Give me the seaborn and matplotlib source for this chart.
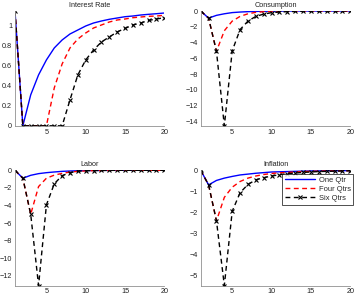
import pandas as pd
import matplotlib
matplotlib.use('Agg')
import matplotlib.pyplot as plt
import seaborn as sns

# Impulse responses, quarters 1..20
quarters = list(range(1, 21))
series_names = ['One Qtr', 'Four Qtrs', 'Six Qtrs']

rate_one = [1.15, 0.0, 0.31, 0.51, 0.66, 0.78, 0.86, 0.92, 0.96, 1.00,
            1.03, 1.05, 1.067, 1.08, 1.093, 1.10, 1.11, 1.117, 1.123, 1.13]
rate_four = [1.15, 0.0, 0.0, 0.0, 0.0, 0.38, 0.62, 0.78, 0.87, 0.93,
             0.98, 1.01, 1.04, 1.06, 1.07, 1.083, 1.09, 1.097, 1.10, 1.107]
rate_six = [1.15, 0.0, 0.0, 0.0, 0.0, 0.0, 0.0, 0.26, 0.51, 0.66,
            0.76, 0.84, 0.89, 0.94, 0.976, 1.01, 1.03, 1.056, 1.07, 1.083]

cons_one = [0.0, -0.9, -0.55, -0.35, -0.2, -0.13, -0.08, -0.05, -0.03, -0.02,
            -0.01, 0.0, 0.0, 0.0, 0.0, 0.0, 0.0, 0.0, 0.0, 0.0]
cons_four = [0.0, -0.9, -5.1, -2.5, -1.28, -0.68, -0.35, -0.17, -0.09, -0.05,
             -0.03, -0.02, -0.01, 0.0, 0.0, 0.0, 0.0, 0.0, 0.0, 0.0]
cons_six = [0.0, -0.9, -5.1, -14.55, -5.05, -2.35, -1.28, -0.68, -0.39, -0.21,
            -0.13, -0.08, -0.05, -0.03, -0.02, -0.01, -0.01, 0.0, 0.0, 0.0]

labor_one = [0.0, -0.9, -0.57, -0.38, -0.27, -0.19, -0.12, -0.08, -0.05, -0.03,
             -0.02, -0.01, 0.0, 0.0, 0.0, 0.0, 0.0, 0.0, 0.0, 0.0]
labor_four = [0.0, -0.9, -5.0, -1.85, -0.9, -0.55, -0.35, -0.2, -0.12, -0.07,
              -0.04, -0.02, -0.01, 0.0, 0.0, 0.0, 0.0, 0.0, 0.0, 0.0]
labor_six = [0.0, -0.9, -5.0, -13.1, -3.93, -1.53, -0.61, -0.27, -0.11, -0.05,
             -0.03, -0.02, -0.01, 0.0, 0.0, 0.0, 0.0, 0.0, 0.0, 0.0]

infl_one = [0.0, -0.69, -0.48, -0.37, -0.29, -0.22, -0.18, -0.14, -0.11, -0.08,
            -0.07, -0.06, -0.05, -0.04, -0.03, -0.03, -0.02, -0.02, -0.02, -0.01]
infl_four = [0.0, -0.69, -2.39, -1.28, -0.8, -0.53, -0.37, -0.27, -0.2, -0.15,
             -0.12, -0.1, -0.08, -0.06, -0.05, -0.04, -0.03, -0.03, -0.02, -0.02]
infl_six = [0.0, -0.69, -2.39, -5.45, -1.94, -1.06, -0.67, -0.45, -0.35, -0.27,
            -0.21, -0.16, -0.13, -0.1, -0.08, -0.06, -0.05, -0.04, -0.03, -0.02]

panels = [
    ('Interest Rate', [rate_one, rate_four, rate_six], [0, 0.2, 0.4, 0.6, 0.8, 1]),
    ('Consumption', [cons_one, cons_four, cons_six], [0, -2, -4, -6, -8, -10, -12, -14]),
    ('Labor', [labor_one, labor_four, labor_six], [0, -2, -4, -6, -8, -10, -12]),
    ('Inflation', [infl_one, infl_four, infl_six], [0, -1, -2, -3, -4, -5]),
]

sns.set_style('white')
plt.rcParams['font.family'] = ['Liberation Sans', 'DejaVu Sans']
plt.rcParams['font.size'] = 5.2

line_styles = {
    'One Qtr': dict(color='#0000ff', linestyle='-', marker=None),
    'Four Qtrs': dict(color='#ff0000', linestyle=(0, (3.5, 2.5)), marker=None),
    'Six Qtrs': dict(color='black', linestyle=(0, (3.5, 2.5)), marker='x'),
}

fig = plt.figure(figsize=(3.56, 2.97), dpi=100)
positions = [
    [0.0421, 0.5764, 0.4194, 0.3865],
    [0.5638, 0.5764, 0.4202, 0.3865],
    [0.0421, 0.0387, 0.4194, 0.3879],
    [0.5638, 0.0387, 0.4202, 0.3879],
]

for pos, (title, data, yticks) in zip(positions, panels):
    ax = fig.add_axes(pos)
    df = pd.DataFrame({'quarter': quarters * 3,
                       'value': data[0] + data[1] + data[2],
                       'series': [s for s in series_names for _ in quarters]})
    for name in series_names:
        st = line_styles[name]
        sns.lineplot(data=df[df['series'] == name], x='quarter', y='value', ax=ax,
                     color=st['color'], linestyle=st['linestyle'], marker=st['marker'],
                     markersize=2.5, markeredgewidth=0.8, markeredgecolor='black',
                     linewidth=1.0, label=name, legend=False)
    vals = data[0] + data[1] + data[2]
    ax.set_xlim(1, 20)
    ax.set_ylim(min(vals), max(vals))
    ax.set_xticks([5, 10, 15, 20])
    ax.set_yticks(yticks)
    if title == 'Interest Rate':
        ax.set_yticklabels(['0', '0.2', '0.4', '0.6', '0.8', '1'])
    ax.set_xlabel('')
    ax.set_ylabel('')
    ax.set_title(title, fontsize=5.2, pad=3, color='#222222')
    for side in ['top', 'right']:
        ax.spines[side].set_visible(False)
    for side in ['left', 'bottom']:
        ax.spines[side].set_color('#909090')
        ax.spines[side].set_linewidth(0.6)
    ax.tick_params(direction='in', length=2, width=0.5, color='#909090',
                   labelsize=5.2, pad=2, labelcolor='#222222')
    if title == 'Inflation':
        leg = ax.legend(loc='upper right', bbox_to_anchor=(1.02, 0.97),
                        fontsize=5.4, handlelength=4.0, frameon=True,
                        fancybox=False, borderpad=0.35, labelspacing=0.25,
                        handletextpad=0.5, borderaxespad=0)
        leg.get_frame().set_edgecolor('black')
        leg.get_frame().set_linewidth(0.6)

fig.savefig('out.png', dpi=100)
